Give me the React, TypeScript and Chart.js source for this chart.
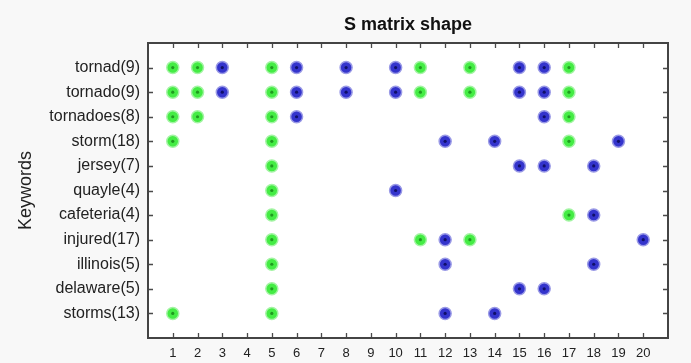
import React, { useEffect, useRef } from "react";
import { Chart, registerables } from "chart.js";

Chart.register(...registerables);

const keywords = [
  "tornad(9)",
  "tornado(9)",
  "tornadoes(8)",
  "storm(18)",
  "jersey(7)",
  "quayle(4)",
  "cafeteria(4)",
  "injured(17)",
  "illinois(5)",
  "delaware(5)",
  "storms(13)",
];

const greenCols: number[][] = [
  [1, 2, 5, 11, 13, 17],
  [1, 2, 5, 11, 13, 17],
  [1, 2, 5, 17],
  [1, 5, 17],
  [5],
  [5],
  [5, 17],
  [5, 11, 13],
  [5],
  [5],
  [1, 5],
];

const blueCols: number[][] = [
  [3, 6, 8, 10, 15, 16],
  [3, 6, 8, 10, 15, 16],
  [6, 16],
  [12, 14, 19],
  [15, 16, 18],
  [10],
  [18],
  [12, 20],
  [12, 18],
  [15, 16],
  [12, 14],
];

const xTickValues = [1, 2, 3, 4, 5, 6, 7, 8, 9, 10, 11, 12, 13, 14, 15, 16, 17, 18, 19, 20];

const toPoints = (cols: number[][]) =>
  cols.flatMap((xs, row) => xs.map((x) => ({ x, y: row + 1 })));

const framePlugin = {
  id: "frameTicks",
  beforeDatasetsDraw(chart: any) {
    const { ctx, chartArea } = chart;
    const { left, right, top, bottom } = chartArea;
    ctx.save();
    ctx.fillStyle = "#ffffff";
    ctx.fillRect(left, top, right - left, bottom - top);
    ctx.restore();
  },
  afterDraw(chart: any) {
    const { ctx, chartArea, scales } = chart;
    const { left, right, top, bottom } = chartArea;
    ctx.save();
    ctx.strokeStyle = "#4a4a4a";
    ctx.lineWidth = 1.3;
    const len = 5;
    ctx.beginPath();
    xTickValues.forEach((v) => {
      const px = Math.round(scales.x.getPixelForValue(v)) + 0.5;
      ctx.moveTo(px, bottom);
      ctx.lineTo(px, bottom - len);
      ctx.moveTo(px, top);
      ctx.lineTo(px, top + len);
    });
    keywords.forEach((_, i) => {
      const py = Math.round(scales.y.getPixelForValue(i + 1)) + 0.5;
      ctx.moveTo(left, py);
      ctx.lineTo(left + len, py);
      ctx.moveTo(right, py);
      ctx.lineTo(right - len, py);
    });
    ctx.stroke();
    ctx.lineWidth = 2;
    ctx.strokeStyle = "#444";
    ctx.strokeRect(left, top, right - left, bottom - top);
    ctx.restore();
  },
};

export default function App() {
  const ref = useRef<HTMLCanvasElement | null>(null);
  useEffect(() => {
    document.body.style.margin = "0";
    const green = toPoints(greenCols);
    const blue = toPoints(blueCols);
    const chart = new Chart(ref.current!, {
      type: "scatter",
      data: {
        datasets: [
          {
            data: green,
            order: 2,
            pointStyle: "circle",
            pointRadius: 6,
            backgroundColor: "#44ec44",
            borderColor: "#a4f4a4",
            borderWidth: 1.5,
          },
          {
            data: blue,
            order: 2,
            pointStyle: "circle",
            pointRadius: 6,
            backgroundColor: "#3434cc",
            borderColor: "#9a9ae6",
            borderWidth: 1.5,
          },
          {
            data: green,
            order: 1,
            pointStyle: "circle",
            pointRadius: 1.6,
            backgroundColor: "#1f9a1f",
            borderWidth: 0,
          },
          {
            data: blue,
            order: 1,
            pointStyle: "circle",
            pointRadius: 1.6,
            backgroundColor: "#10106a",
            borderWidth: 0,
          },
        ],
      },
      options: {
        responsive: false,
        animation: false,
        layout: { padding: { top: 0, right: 23, left: 0, bottom: 0 } },
        plugins: {
          legend: { display: false },
          tooltip: { enabled: false },
          title: {
            display: true,
            text: "S matrix shape",
            fullSize: false,
            color: "#111",
            font: { family: "Liberation Sans", size: 18, weight: "bold" },
            padding: { top: 14, bottom: 7.4 },
          },
        },
        scales: {
          x: {
            type: "linear",
            min: 0,
            max: 21,
            afterBuildTicks: (scale: any) => {
              scale.ticks = xTickValues.map((v) => ({ value: v }));
            },
            ticks: {
              color: "#222",
              font: { family: "Liberation Sans", size: 13 },
              padding: 8,
              maxRotation: 0,
              autoSkip: false,
            },
            grid: { display: false, drawTicks: false },
            border: { display: false },
            afterFit: (scale: any) => {
              scale.height = 25;
            },
          },
          y: {
            type: "linear",
            min: 0,
            max: 12,
            reverse: true,
            afterBuildTicks: (scale: any) => {
              scale.ticks = keywords.map((_, i) => ({ value: i + 1 }));
            },
            ticks: {
              color: "#222",
              font: { family: "Liberation Sans", size: 16 },
              padding: 8,
              autoSkip: false,
              callback: (v: any) => keywords[Number(v) - 1] ?? "",
            },
            title: {
              display: true,
              text: "Keywords",
              color: "#222",
              font: { family: "Liberation Sans", size: 18 },
              padding: { top: 15, bottom: 0 },
            },
            grid: { display: false, drawTicks: false },
            border: { display: false },
            afterFit: (scale: any) => {
              scale.width = 148;
            },
          },
        },
      },
      plugins: [framePlugin],
    });
    return () => chart.destroy();
  }, []);
  return (
    <div style={{ width: 691, height: 363, background: "#f8f8f8" }}>
      <canvas ref={ref} width={691} height={363} style={{ display: "block" }} />
    </div>
  );
}
